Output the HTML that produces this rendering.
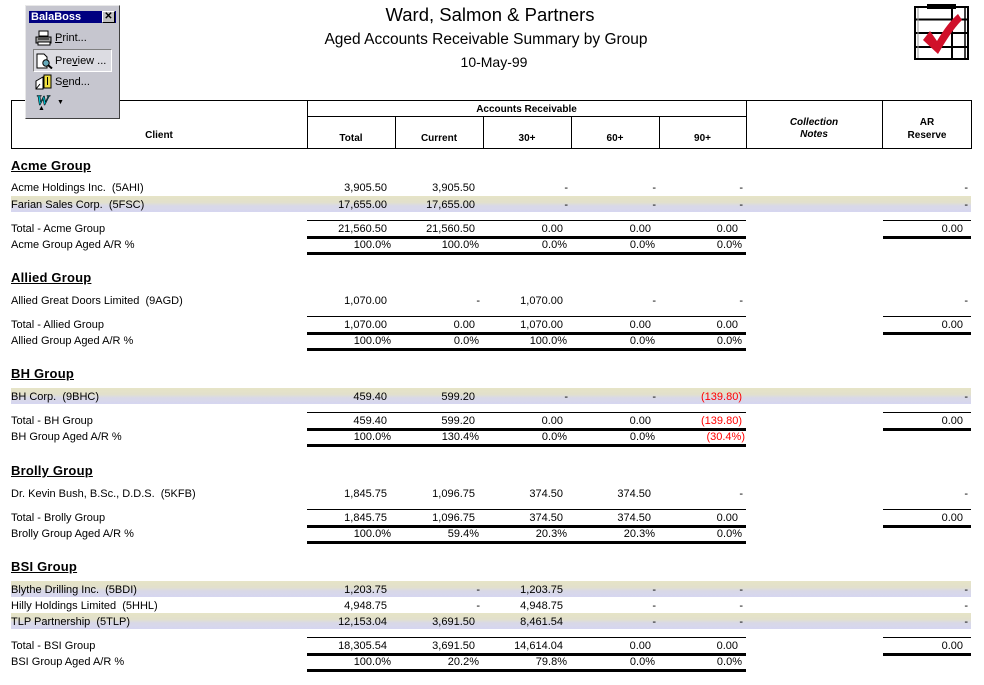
<!DOCTYPE html>
<html><head><meta charset="utf-8">
<style>
html,body{margin:0;padding:0}
body{width:984px;height:685px;position:relative;background:#fff;font-family:"Liberation Sans",Arial,sans-serif;overflow:hidden;color:#000}
.a{position:absolute;white-space:pre}
.t{position:absolute;white-space:pre;font-size:11px;line-height:16px;height:16px;left:11px;margin-top:1px}
.n{position:absolute;white-space:pre;font-size:11px;line-height:16px;height:16px;text-align:right;margin-top:1px}
.r{color:#ff0000}
.g{position:absolute;left:11px;font-size:13px;font-weight:bold;text-decoration:underline;line-height:16px;height:16px;white-space:pre;letter-spacing:0.2px;margin-top:1px}
.l{position:absolute;background:#000}
.hi{position:absolute;left:11px;width:960px;height:16px;background:linear-gradient(#e6e4c6 0%,#e2e0cc 40%,#d9d9e6 60%,#d6d6f0 100%)}
.h{position:absolute;font-size:10px;font-weight:bold;line-height:12px;text-align:center;white-space:pre;margin-top:2px}
.tb{position:absolute;font-size:11px;line-height:14px;white-space:pre}
</style></head><body>

<!-- Titles -->
<div class="a" style="left:290px;width:400px;top:4px;font-size:18.5px;line-height:22px;text-align:center">Ward, Salmon &amp; Partners</div>
<div class="a" style="left:286px;width:400px;top:30px;font-size:15.5px;line-height:20px;text-align:center">Aged Accounts Receivable Summary by Group</div>
<div class="a" style="left:294px;width:400px;top:53px;font-size:14px;line-height:18px;text-align:center">10-May-99</div>

<!-- check icon -->
<svg style="position:absolute;left:910px;top:0" width="64" height="64" viewBox="910 0 64 64">
<rect x="927" y="4" width="29" height="5" fill="#000"/>
<rect x="915" y="7" width="53" height="52" fill="none" stroke="#000" stroke-width="2"/>
<line x1="915" y1="19.5" x2="968" y2="19.5" stroke="#000" stroke-width="2"/>
<line x1="915" y1="33" x2="968" y2="33" stroke="#000" stroke-width="2"/>
<line x1="915" y1="47" x2="968" y2="47" stroke="#000" stroke-width="2"/>
<line x1="952" y1="7" x2="952" y2="59" stroke="#000" stroke-width="2"/>
<line x1="965" y1="7" x2="965" y2="59" stroke="#000" stroke-width="1.5"/>
<line x1="918" y1="8" x2="918" y2="58" stroke="#999" stroke-width="1"/>
<path d="M923 40 L930 31 L937 41 C944 29 951 20 958 14 L962 20 C953 29 945 42 938 54 Z" fill="#d0102a"/>
</svg>

<!-- Header table -->
<div class="l" style="left:11px;top:100px;width:961px;height:1px"></div>
<div class="l" style="left:11px;top:148px;width:961px;height:1px"></div>
<div class="l" style="left:11px;top:100px;width:1px;height:49px"></div>
<div class="l" style="left:971px;top:100px;width:1px;height:49px"></div>
<div class="l" style="left:307px;top:100px;width:1px;height:49px"></div>
<div class="l" style="left:746px;top:100px;width:1px;height:49px"></div>
<div class="l" style="left:882px;top:100px;width:1px;height:49px"></div>
<div class="l" style="left:307px;top:116px;width:440px;height:1px"></div>
<div class="l" style="left:395px;top:116px;width:1px;height:33px"></div>
<div class="l" style="left:483px;top:116px;width:1px;height:33px"></div>
<div class="l" style="left:571px;top:116px;width:1px;height:33px"></div>
<div class="l" style="left:659px;top:116px;width:1px;height:33px"></div>

<div class="h" style="left:11px;width:296px;top:128px">Client</div>
<div class="h" style="left:307px;width:439px;top:102px">Accounts Receivable</div>
<div class="h" style="left:307px;width:88px;top:131px">Total</div>
<div class="h" style="left:395px;width:88px;top:131px">Current</div>
<div class="h" style="left:483px;width:88px;top:131px">30+</div>
<div class="h" style="left:571px;width:88px;top:131px">60+</div>
<div class="h" style="left:659px;width:87px;top:131px">90+</div>
<div class="h" style="left:746px;width:136px;top:115px;font-style:italic">Collection</div>
<div class="h" style="left:746px;width:136px;top:127px;font-style:italic">Notes</div>
<div class="h" style="left:883px;width:88px;top:115px">AR</div>
<div class="h" style="left:883px;width:88px;top:128px">Reserve</div>

<!-- Highlights -->
<div class="hi" style="top:196px"></div>
<div class="hi" style="top:388px"></div>
<div class="hi" style="top:581px"></div>
<div class="hi" style="top:613px"></div>

<!-- ACME -->
<div class="g" style="top:157px">Acme Group</div>
<div class="t" style="top:179px">Acme Holdings Inc.  (5AHI)</div>
<div class="n" style="top:179px;right:597px">3,905.50</div>
<div class="n" style="top:179px;right:509px">3,905.50</div>
<div class="n" style="top:179px;right:416px">-</div>
<div class="n" style="top:179px;right:328px">-</div>
<div class="n" style="top:179px;right:241px">-</div>
<div class="n" style="top:179px;right:16px">-</div>
<div class="t" style="top:196px">Farian Sales Corp.  (5FSC)</div>
<div class="n" style="top:196px;right:597px">17,655.00</div>
<div class="n" style="top:196px;right:509px">17,655.00</div>
<div class="n" style="top:196px;right:416px">-</div>
<div class="n" style="top:196px;right:328px">-</div>
<div class="n" style="top:196px;right:241px">-</div>
<div class="n" style="top:196px;right:16px">-</div>
<div class="l" style="left:307px;top:220px;width:439px;height:1px"></div>
<div class="l" style="left:883px;top:220px;width:88px;height:1px"></div>
<div class="t" style="top:220px">Total - Acme Group</div>
<div class="n" style="top:220px;right:597px">21,560.50</div>
<div class="n" style="top:220px;right:509px">21,560.50</div>
<div class="n" style="top:220px;right:421px">0.00</div>
<div class="n" style="top:220px;right:333px">0.00</div>
<div class="n" style="top:220px;right:246px">0.00</div>
<div class="n" style="top:220px;right:21px">0.00</div>
<div class="l" style="left:307px;top:236px;width:439px;height:3px"></div>
<div class="l" style="left:883px;top:236px;width:88px;height:3px"></div>
<div class="t" style="top:236px">Acme Group Aged A/R %</div>
<div class="n" style="top:236px;right:593px">100.0%</div>
<div class="n" style="top:236px;right:505px">100.0%</div>
<div class="n" style="top:236px;right:417px">0.0%</div>
<div class="n" style="top:236px;right:329px">0.0%</div>
<div class="n" style="top:236px;right:242px">0.0%</div>
<div class="l" style="left:307px;top:252px;width:439px;height:3px"></div>

<!-- ALLIED -->
<div class="g" style="top:269px">Allied Group</div>
<div class="t" style="top:292px">Allied Great Doors Limited  (9AGD)</div>
<div class="n" style="top:292px;right:597px">1,070.00</div>
<div class="n" style="top:292px;right:504px">-</div>
<div class="n" style="top:292px;right:421px">1,070.00</div>
<div class="n" style="top:292px;right:328px">-</div>
<div class="n" style="top:292px;right:241px">-</div>
<div class="n" style="top:292px;right:16px">-</div>
<div class="l" style="left:307px;top:316px;width:439px;height:1px"></div>
<div class="l" style="left:883px;top:316px;width:88px;height:1px"></div>
<div class="t" style="top:316px">Total - Allied Group</div>
<div class="n" style="top:316px;right:597px">1,070.00</div>
<div class="n" style="top:316px;right:509px">0.00</div>
<div class="n" style="top:316px;right:421px">1,070.00</div>
<div class="n" style="top:316px;right:333px">0.00</div>
<div class="n" style="top:316px;right:246px">0.00</div>
<div class="n" style="top:316px;right:21px">0.00</div>
<div class="l" style="left:307px;top:332px;width:439px;height:3px"></div>
<div class="l" style="left:883px;top:332px;width:88px;height:3px"></div>
<div class="t" style="top:332px">Allied Group Aged A/R %</div>
<div class="n" style="top:332px;right:593px">100.0%</div>
<div class="n" style="top:332px;right:505px">0.0%</div>
<div class="n" style="top:332px;right:417px">100.0%</div>
<div class="n" style="top:332px;right:329px">0.0%</div>
<div class="n" style="top:332px;right:242px">0.0%</div>
<div class="l" style="left:307px;top:348px;width:439px;height:3px"></div>

<!-- BH -->
<div class="g" style="top:365px">BH Group</div>
<div class="t" style="top:388px">BH Corp.  (9BHC)</div>
<div class="n" style="top:388px;right:597px">459.40</div>
<div class="n" style="top:388px;right:509px">599.20</div>
<div class="n" style="top:388px;right:416px">-</div>
<div class="n" style="top:388px;right:328px">-</div>
<div class="n r" style="top:388px;right:242px">(139.80)</div>
<div class="n" style="top:388px;right:16px">-</div>
<div class="l" style="left:307px;top:412px;width:439px;height:1px"></div>
<div class="l" style="left:883px;top:412px;width:88px;height:1px"></div>
<div class="t" style="top:412px">Total - BH Group</div>
<div class="n" style="top:412px;right:597px">459.40</div>
<div class="n" style="top:412px;right:509px">599.20</div>
<div class="n" style="top:412px;right:421px">0.00</div>
<div class="n" style="top:412px;right:333px">0.00</div>
<div class="n r" style="top:412px;right:242px">(139.80)</div>
<div class="n" style="top:412px;right:21px">0.00</div>
<div class="l" style="left:307px;top:428px;width:439px;height:3px"></div>
<div class="l" style="left:883px;top:428px;width:88px;height:3px"></div>
<div class="t" style="top:428px">BH Group Aged A/R %</div>
<div class="n" style="top:428px;right:593px">100.0%</div>
<div class="n" style="top:428px;right:505px">130.4%</div>
<div class="n" style="top:428px;right:417px">0.0%</div>
<div class="n" style="top:428px;right:329px">0.0%</div>
<div class="n r" style="top:428px;right:239px">(30.4%)</div>
<div class="l" style="left:307px;top:444px;width:439px;height:3px"></div>

<!-- BROLLY -->
<div class="g" style="top:462px">Brolly Group</div>
<div class="t" style="top:485px">Dr. Kevin Bush, B.Sc., D.D.S.  (5KFB)</div>
<div class="n" style="top:485px;right:597px">1,845.75</div>
<div class="n" style="top:485px;right:509px">1,096.75</div>
<div class="n" style="top:485px;right:421px">374.50</div>
<div class="n" style="top:485px;right:333px">374.50</div>
<div class="n" style="top:485px;right:241px">-</div>
<div class="n" style="top:485px;right:16px">-</div>
<div class="l" style="left:307px;top:509px;width:439px;height:1px"></div>
<div class="l" style="left:883px;top:509px;width:88px;height:1px"></div>
<div class="t" style="top:509px">Total - Brolly Group</div>
<div class="n" style="top:509px;right:597px">1,845.75</div>
<div class="n" style="top:509px;right:509px">1,096.75</div>
<div class="n" style="top:509px;right:421px">374.50</div>
<div class="n" style="top:509px;right:333px">374.50</div>
<div class="n" style="top:509px;right:246px">0.00</div>
<div class="n" style="top:509px;right:21px">0.00</div>
<div class="l" style="left:307px;top:525px;width:439px;height:3px"></div>
<div class="l" style="left:883px;top:525px;width:88px;height:3px"></div>
<div class="t" style="top:525px">Brolly Group Aged A/R %</div>
<div class="n" style="top:525px;right:593px">100.0%</div>
<div class="n" style="top:525px;right:505px">59.4%</div>
<div class="n" style="top:525px;right:417px">20.3%</div>
<div class="n" style="top:525px;right:329px">20.3%</div>
<div class="n" style="top:525px;right:242px">0.0%</div>
<div class="l" style="left:307px;top:541px;width:439px;height:3px"></div>

<!-- BSI -->
<div class="g" style="top:558px">BSI Group</div>
<div class="t" style="top:581px">Blythe Drilling Inc.  (5BDI)</div>
<div class="n" style="top:581px;right:597px">1,203.75</div>
<div class="n" style="top:581px;right:504px">-</div>
<div class="n" style="top:581px;right:421px">1,203.75</div>
<div class="n" style="top:581px;right:328px">-</div>
<div class="n" style="top:581px;right:241px">-</div>
<div class="n" style="top:581px;right:16px">-</div>
<div class="t" style="top:597px">Hilly Holdings Limited  (5HHL)</div>
<div class="n" style="top:597px;right:597px">4,948.75</div>
<div class="n" style="top:597px;right:504px">-</div>
<div class="n" style="top:597px;right:421px">4,948.75</div>
<div class="n" style="top:597px;right:328px">-</div>
<div class="n" style="top:597px;right:241px">-</div>
<div class="n" style="top:597px;right:16px">-</div>
<div class="t" style="top:613px">TLP Partnership  (5TLP)</div>
<div class="n" style="top:613px;right:597px">12,153.04</div>
<div class="n" style="top:613px;right:509px">3,691.50</div>
<div class="n" style="top:613px;right:421px">8,461.54</div>
<div class="n" style="top:613px;right:328px">-</div>
<div class="n" style="top:613px;right:241px">-</div>
<div class="n" style="top:613px;right:16px">-</div>
<div class="l" style="left:307px;top:637px;width:439px;height:1px"></div>
<div class="l" style="left:883px;top:637px;width:88px;height:1px"></div>
<div class="t" style="top:637px">Total - BSI Group</div>
<div class="n" style="top:637px;right:597px">18,305.54</div>
<div class="n" style="top:637px;right:509px">3,691.50</div>
<div class="n" style="top:637px;right:421px">14,614.04</div>
<div class="n" style="top:637px;right:333px">0.00</div>
<div class="n" style="top:637px;right:246px">0.00</div>
<div class="n" style="top:637px;right:21px">0.00</div>
<div class="l" style="left:307px;top:653px;width:439px;height:3px"></div>
<div class="l" style="left:883px;top:653px;width:88px;height:3px"></div>
<div class="t" style="top:653px">BSI Group Aged A/R %</div>
<div class="n" style="top:653px;right:593px">100.0%</div>
<div class="n" style="top:653px;right:505px">20.2%</div>
<div class="n" style="top:653px;right:417px">79.8%</div>
<div class="n" style="top:653px;right:329px">0.0%</div>
<div class="n" style="top:653px;right:242px">0.0%</div>
<div class="l" style="left:307px;top:669px;width:439px;height:3px"></div>

<!-- BalaBoss toolbar -->
<div style="position:absolute;left:25px;top:5px;width:93px;height:112px;background:#c6c6cf;border-top:1px solid #e8e8e8;border-left:1px solid #e8e8e8;border-right:1px solid #404040;border-bottom:1px solid #404040"></div>
<div style="position:absolute;left:29px;top:11px;width:87px;height:12px;background:#000080"></div>
<div class="a" style="left:31px;top:10px;font-size:11px;font-weight:bold;color:#fff;line-height:14px">BalaBoss</div>
<div style="position:absolute;left:102px;top:11px;width:11px;height:10px;background:#c0c0c0;border-top:1px solid #fff;border-left:1px solid #fff;border-right:1px solid #000;border-bottom:1px solid #000;font-size:10px;line-height:10px;text-align:center;font-weight:bold">✕</div>

<!-- Print -->
<svg style="position:absolute;left:35px;top:30px" width="18" height="16" viewBox="0 0 18 16">
<rect x="4" y="1" width="9" height="5" fill="#fff" stroke="#000"/>
<path d="M1 7 L16 7 L16 13 L1 13 Z" fill="#a0a0a0" stroke="#000"/>
<rect x="3" y="12" width="12" height="3" fill="#fff" stroke="#000"/>
<line x1="3" y1="9" x2="14" y2="9" stroke="#000"/>
</svg>
<div class="tb" style="left:55px;top:31px"><u>P</u>rint...</div>

<!-- Preview -->
<div style="position:absolute;left:33px;top:49px;width:77px;height:21px;background:#dcdce2;border-top:1px solid #808080;border-left:1px solid #808080;border-right:1px solid #fff;border-bottom:1px solid #fff"></div>
<svg style="position:absolute;left:36px;top:53px" width="17" height="16" viewBox="0 0 17 16">
<path d="M1 1 L8 1 L11 4 L11 15 L1 15 Z" fill="#fff" stroke="#000"/>
<circle cx="10" cy="10" r="3.2" fill="#6ab" stroke="#000"/>
<line x1="12" y1="12" x2="16" y2="15.5" stroke="#000" stroke-width="2"/>
</svg>
<div class="tb" style="left:55px;top:54px">Pre<u>v</u>iew ...</div>

<!-- Send -->
<svg style="position:absolute;left:35px;top:74px" width="18" height="16" viewBox="0 0 18 16">
<path d="M1 7 L8 3 L8 15 L1 15 Z" fill="#fff" stroke="#000"/>
<path d="M1 15 L5 10" stroke="#000"/>
<rect x="9" y="1" width="7" height="13" fill="#f0e040" stroke="#000"/>
<line x1="12.5" y1="3" x2="12.5" y2="11" stroke="#000"/>
</svg>
<div class="tb" style="left:55px;top:75px">S<u>e</u>nd...</div>

<!-- W -->
<div class="a" style="left:36px;top:93px;font-family:'Liberation Serif',serif;font-weight:bold;font-style:italic;font-size:15px;line-height:16px;color:#00c0d0;-webkit-text-stroke:0.6px #000">W</div>
<div class="a" style="left:38px;top:105px;font-size:7px;line-height:8px">▲</div>
<div class="a" style="left:57px;top:98px;font-size:7px;line-height:10px">▼</div>

</body></html>
